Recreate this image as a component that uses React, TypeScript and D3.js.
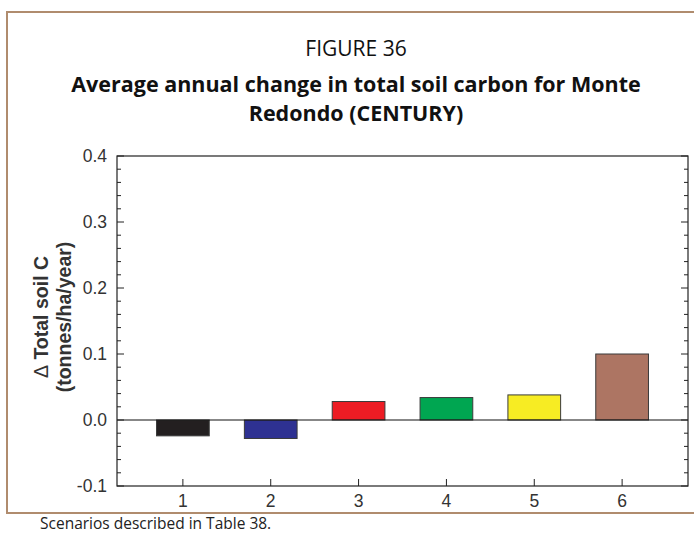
import React from "react";
import * as d3 from "d3";

// scenario numbers and average annual change in total soil C (t/ha/yr)
const scenarios = [1, 2, 3, 4, 5, 6];
const changes = [-0.024, -0.028, 0.028, 0.034, 0.038, 0.1];
const barColors = ["#231f20", "#2e3192", "#ed1c24", "#00a651", "#f7ec23", "#ad7563"];
const yMajorTicks = [-0.1, 0.0, 0.1, 0.2, 0.3, 0.4];

const W = 694;
const H = 533;
const margin = { left: 117, right: 6, top: 156, bottom: 47 };

const App = () => {
  const x = d3
    .scaleLinear()
    .domain([0.25, 6.75])
    .range([margin.left, W - margin.right]);
  const y = d3
    .scaleLinear()
    .domain([-0.1, 0.4])
    .range([H - margin.bottom, margin.top]);

  const barW = x(0.6) - x(0);
  const minor = d3.range(-0.1, 0.4001, 0.02);
  const tickFont = "'Liberation Sans', Arial, sans-serif";
  const titleFont = "'Open Sans', 'Noto Sans', sans-serif";
  const titleX = 356;
  const labelY = 317;
  // plain hyphen for negatives, like the original
  const fmt = (v: number) => d3.format(".1f")(v).replace("\u2212", "-");

  return (
    <svg
      width={W}
      height={H}
      style={{ position: "absolute", left: 0, top: 0, background: "#fff" }}
    >
      {/* outer frame */}
      <rect x={7} y={12} width={700} height={501} fill="none" stroke="#b08c6e" strokeWidth={2} />

      <text x={titleX} y={56} textAnchor="middle" fontFamily={titleFont} fontSize={21} fill="#111">
        FIGURE 36
      </text>
      <text x={titleX} y={92} textAnchor="middle" fontFamily={titleFont} fontSize={21.5} fontWeight="bold" fill="#111">
        Average annual change in total soil carbon for Monte
      </text>
      <text x={titleX} y={121} textAnchor="middle" fontFamily={titleFont} fontSize={21.5} fontWeight="bold" fill="#111">
        Redondo (CENTURY)
      </text>

      {/* bars */}
      {changes.map((v, i) => (
        <rect
          key={i}
          x={x(scenarios[i]) - barW / 2}
          y={y(Math.max(0, v))}
          width={barW}
          height={Math.abs(y(v) - y(0))}
          fill={barColors[i]}
          stroke="#3a3a3a"
          strokeWidth={1}
        />
      ))}

      {/* zero line */}
      <line x1={x(0.25)} x2={x(6.75)} y1={y(0)} y2={y(0)} stroke="#111" strokeWidth={1.2} />

      {/* y ticks, both sides, inward */}
      {minor.map((t, i) => {
        const major = i % 5 === 0;
        const len = major ? 7 : 4;
        const yy = y(t);
        return (
          <g key={i}>
            <line x1={x(0.25)} x2={x(0.25) + len} y1={yy} y2={yy} stroke="#222" />
            <line x1={x(6.75)} x2={x(6.75) - len} y1={yy} y2={yy} stroke="#222" />
          </g>
        );
      })}
      {yMajorTicks.map((t) => (
        <text
          key={t}
          x={x(0.25) - 10}
          y={y(t) + 6}
          textAnchor="end"
          fontFamily={tickFont}
          fontSize={17.5}
          fill="#333"
        >
          {fmt(t)}
        </text>
      ))}

      {/* x ticks */}
      {scenarios.map((s) => (
        <g key={s}>
          <line x1={x(s)} x2={x(s)} y1={y(-0.1)} y2={y(-0.1) - 7} stroke="#222" />
          <text
            x={x(s)}
            y={y(-0.1) + 21}
            textAnchor="middle"
            fontFamily={tickFont}
            fontSize={17.5}
            fill="#333"
          >
            {s}
          </text>
        </g>
      ))}

      {/* plot box */}
      <rect
        x={x(0.25)}
        y={y(0.4)}
        width={x(6.75) - x(0.25)}
        height={y(-0.1) - y(0.4)}
        fill="none"
        stroke="#222"
        strokeWidth={1.2}
      />

      {/* y axis title */}
      <text
        transform={`translate(48, ${labelY}) rotate(-90)`}
        textAnchor="middle"
        fontFamily={tickFont}
        fontSize={19.5}
        fontWeight="bold"
        fill="#333"
      >
        <tspan fontWeight="normal">Δ</tspan> Total soil C
      </text>
      <text
        transform={`translate(71, ${labelY}) rotate(-90)`}
        textAnchor="middle"
        fontFamily={tickFont}
        fontSize={19.5}
        fontWeight="bold"
        fill="#333"
      >
        (tonnes/ha/year)
      </text>

      <text x={40} y={529} fontFamily={titleFont} fontSize={15.5} fill="#222">
        Scenarios described in Table 38.
      </text>
    </svg>
  );
};

export default App;
